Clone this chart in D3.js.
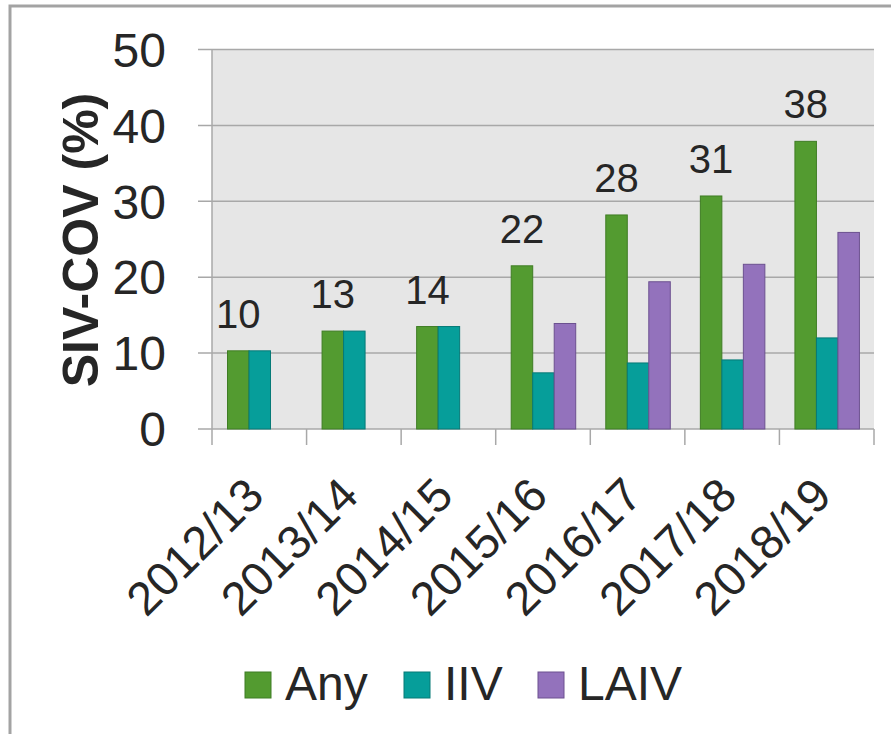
<!DOCTYPE html>
<html>
<head>
<meta charset="utf-8">
<script src="https://cdn.jsdelivr.net/npm/d3@7"></script>
<style>
  body { margin: 0; background: #fff; }
  text { font-family: "Liberation Sans", Arial, sans-serif; fill: #262626; }
</style>
</head>
<body>
<script>
var width = 891, height = 734;

// data
var seasons = ["2012/13", "2013/14", "2014/15", "2015/16", "2016/17", "2017/18", "2018/19"];
var seriesNames = ["Any", "IIV", "LAIV"];
var anyValues = [10.3, 12.9, 13.5, 21.5, 28.2, 30.7, 37.9];
var iivValues = [10.3, 12.9, 13.5, 7.4, 8.7, 9.1, 12.0];
var laivValues = [null, null, null, 13.9, 19.4, 21.7, 25.9];
var anyLabels = ["10", "13", "14", "22", "28", "31", "38"];
var yTicks = [0, 10, 20, 30, 40, 50];

var colors = { Any: "#539b30", IIV: "#069e9a", LAIV: "#9372bc" };
var outlines = { Any: "#3f7d24", IIV: "#067a77", LAIV: "#6c5190" };

var rows = seasons.map(function(s, i) {
  return { season: s, Any: anyValues[i], IIV: iivValues[i], LAIV: laivValues[i], label: anyLabels[i] };
});

var svg = d3.select("body").append("svg")
  .attr("width", width)
  .attr("height", height);

// outer frame
svg.append("rect")
  .attr("x", 10).attr("y", 6)
  .attr("width", 950).attr("height", 800)
  .attr("fill", "none")
  .attr("stroke", "#a3a3a3")
  .attr("stroke-width", 3);

var plotLeft = 212, plotRight = 874, plotTop = 49.5, plotBottom = 429;

var x0 = d3.scaleBand().domain(seasons).range([plotLeft, plotRight]);
var x1 = d3.scaleBand().domain(seriesNames).range([15.5, 80]);
var y = d3.scaleLinear().domain([0, 50]).range([plotBottom, plotTop]);

// plot background
svg.append("rect")
  .attr("x", plotLeft).attr("y", plotTop)
  .attr("width", plotRight - plotLeft).attr("height", plotBottom - plotTop)
  .attr("fill", "#e6e6e6");

// grid lines + left ticks
svg.append("g").selectAll("line")
  .data(yTicks)
  .join("line")
  .attr("x1", 198).attr("x2", plotRight)
  .attr("y1", function(d) { return y(d); })
  .attr("y2", function(d) { return y(d); })
  .attr("stroke", "#a8a8a8")
  .attr("stroke-width", 1.5);

// y axis line
svg.append("line")
  .attr("x1", plotLeft).attr("x2", plotLeft)
  .attr("y1", plotTop).attr("y2", plotBottom + 16)
  .attr("stroke", "#a8a8a8").attr("stroke-width", 1.5);

// x category ticks
svg.append("g").selectAll("line")
  .data(seasons)
  .join("line")
  .attr("x1", function(d) { return x0(d) + x0.bandwidth(); })
  .attr("x2", function(d) { return x0(d) + x0.bandwidth(); })
  .attr("y1", plotBottom).attr("y2", plotBottom + 16)
  .attr("stroke", "#a8a8a8").attr("stroke-width", 1.5);

// y tick labels
svg.append("g").selectAll("text")
  .data(yTicks)
  .join("text")
  .attr("x", 166)
  .attr("y", function(d) { return y(d); })
  .attr("dy", "0.36em")
  .attr("text-anchor", "end")
  .style("font-size", "48px")
  .text(function(d) { return d; });

// bars
var groups = svg.append("g").selectAll("g")
  .data(rows)
  .join("g")
  .attr("transform", function(d) { return "translate(" + x0(d.season) + ",0)"; });

groups.selectAll("rect")
  .data(function(d) {
    return seriesNames.filter(function(k) { return d[k] != null; })
      .map(function(k) { return { key: k, value: d[k] }; });
  })
  .join("rect")
  .attr("x", function(d) { return x1(d.key); })
  .attr("width", x1.bandwidth())
  .attr("y", function(d) { return y(d.value); })
  .attr("height", function(d) { return plotBottom - y(d.value); })
  .attr("fill", function(d) { return colors[d.key]; })
  .attr("stroke", function(d) { return outlines[d.key]; })
  .attr("stroke-width", 1);

// value labels above the "Any" bars
groups.append("text")
  .attr("x", x1("Any") + x1.bandwidth() / 2)
  .attr("y", function(d) { return y(d.Any) - 23; })
  .attr("text-anchor", "middle")
  .style("font-size", "40px")
  .text(function(d) { return d.label; });

// rotated category labels
svg.append("g").selectAll("text")
  .data(seasons)
  .join("text")
  .attr("transform", function(d) {
    return "translate(" + (x0(d) + x0.bandwidth() / 2 + 7) + ",498) rotate(-45)";
  })
  .attr("text-anchor", "end")
  .style("font-size", "47px")
  .text(function(d) { return d; });

// y axis title
svg.append("text")
  .attr("transform", "translate(98,240) rotate(-90)")
  .attr("text-anchor", "middle")
  .style("font-size", "50px")
  .style("font-weight", "bold")
  .text("SIV-COV (%)");

// legend
var legendX = [245, 404, 538];
var legend = svg.append("g").selectAll("g")
  .data(seriesNames)
  .join("g")
  .attr("transform", function(d, i) { return "translate(" + legendX[i] + ",672)"; });

legend.append("rect")
  .attr("width", 26).attr("height", 26)
  .attr("fill", function(d) { return colors[d]; })
  .attr("stroke", function(d) { return outlines[d]; })
  .attr("stroke-width", 1);

legend.append("text")
  .attr("x", 40)
  .attr("y", 28)
  .style("font-size", "48px")
  .text(function(d) { return d; });
</script>
</body>
</html>
